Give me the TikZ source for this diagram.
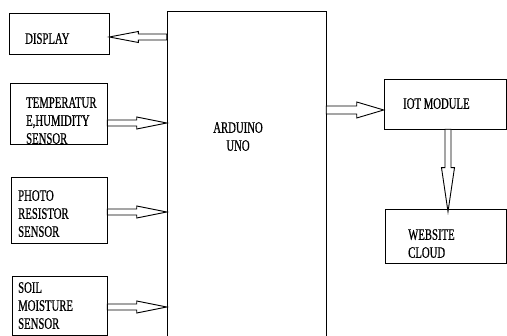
\documentclass[tikz,border=0pt]{standalone}
\usepackage{fontspec}
\newfontfamily\tf[FakeStretch=0.67,FakeBold=0.6]{Liberation Serif}
\usetikzlibrary{calc}
\begin{document}
\begin{tikzpicture}[x=1pt,y=1pt,
  box/.style 2 args={draw, line width=0.6pt, rectangle, inner sep=0pt, minimum width=#1 pt, minimum height=#2 pt},
  txt/.style={font=\tf\fontsize{16}{18}\selectfont, inner sep=0pt, anchor=north west, align=left},
  arr/.style={draw, fill=white, line width=0.9pt, line join=miter},
  hollow/.style n args={3}{to path={
    let \p1=(\tikztostart), \p2=(\tikztotarget),
        \n1={veclen(\x2-\x1,\y2-\y1)},
        \n2={(\x2-\x1)/\n1}, \n3={(\y2-\y1)/\n1},
        \p3=({\x2-#3*\n2},{\y2-#3*\n3}) in
    ({\x1-#1*\n3},{\y1+#1*\n2}) -- ({\x3-#1*\n3},{\y3+#1*\n2}) --
    ({\x3-#2*\n3},{\y3+#2*\n2}) -- (\p2) --
    ({\x3+#2*\n3},{\y3-#2*\n2}) -- ({\x3+#1*\n3},{\y3-#1*\n2}) --
    ({\x1+#1*\n3},{\y1-#1*\n2}) -- cycle}}
]
\useasboundingbox (0,0) rectangle (507,336);
\fill[white] (0,0) rectangle (507,336);

% boxes
\node[box={100}{41}] (disp) at (59,302.5) {};
\node[box={97}{61}] (temp) at (58.5,222.5) {};
\node[box={96}{66}] (photo) at (59,126) {};
\node[box={95}{59}] (soil) at (59.5,30.5) {};
\node[box={159}{327}, line width=0.5pt] (ard) at (246.5,161.5) {};
\node[box={122}{50}] (iot) at (445,232) {};
\node[box={121}{54}] (web) at (445.5,100) {};

% texts
\node[txt] (tdisp) at (25,303) {DISPLAY};
\node[txt] (ttemp) at (26,239) {TEMPERATUR\\E,HUMIDITY\\SENSOR};
\node[txt] (tphoto) at (18,146) {PHOTO\\RESISTOR\\SENSOR};
\node[txt] (tsoil) at (18,54) {SOIL\\MOISTURE\\SENSOR};
\node[txt, anchor=north, align=center] (tard) at (238,214) {ARDUINO\\UNO};
\node[txt] (tiot) at (403,238) {IOT MODULE};
\node[txt] (tweb) at (408,107) {WEBSITE\\CLOUD};

% connectors
\coordinate (dA) at ([yshift=-3.5pt]disp.east);
\draw[arr] (ard.west |- dA) to[hollow={3}{5.5}{29}] (dA);
\coordinate (tA) at ([yshift=-9.5pt]temp.east);
\draw[arr] (tA) to[hollow={3}{6}{30}] (ard.west |- tA);
\coordinate (pA) at ([yshift=-2pt]photo.east);
\draw[arr] (pA) to[hollow={3}{6}{30}] (ard.west |- pA);
\coordinate (sA) at ([yshift=-1.5pt]soil.east);
\draw[arr] (sA) to[hollow={3}{6}{30}] (ard.west |- sA);
\coordinate (iA) at ([yshift=-6pt]iot.west);
\draw[arr] (ard.east |- iA) to[hollow={4}{8}{27}] (iA);
\coordinate (vA) at ([xshift=3pt]iot.south);
\draw[arr] (vA) to[hollow={3}{6.5}{44}] ([yshift=-3pt]vA |- web.north);
\end{tikzpicture}
\end{document}
